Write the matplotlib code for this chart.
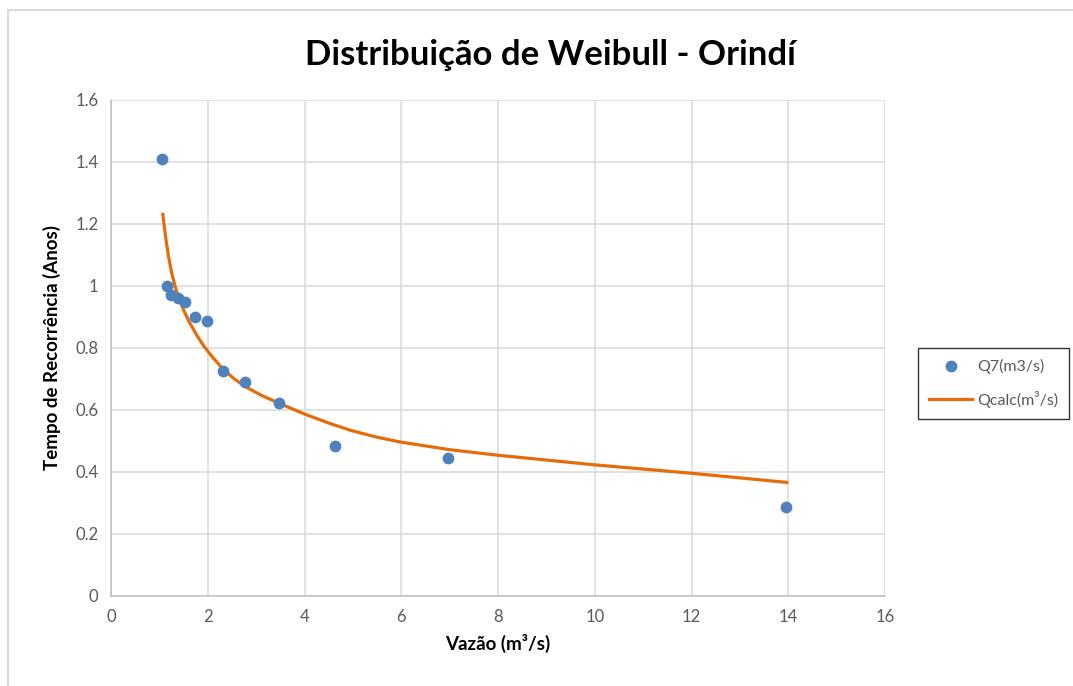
import matplotlib.pyplot as plt
from matplotlib.lines import Line2D

# observed points Q7(m3/s)
obs_x = [1.05, 1.15, 1.25, 1.39, 1.53, 1.74, 1.98, 2.31, 2.77, 3.47, 4.63, 6.97, 13.96]
obs_y = [1.41, 1.00, 0.971, 0.962, 0.949, 0.901, 0.887, 0.726, 0.691, 0.622, 0.485, 0.446, 0.286]

# fitted curve Qcalc(m3/s)
calc_x = [1.068, 1.095, 1.136, 1.184, 1.25, 1.322, 1.40, 1.494, 1.62, 1.77, 1.92, 2.1,
          2.31, 2.55, 2.77, 3.1, 3.47, 4.0, 4.5, 4.94, 5.45, 5.97, 7.0, 8.0, 10.0, 12.0, 14.0]
calc_y = [1.236, 1.2, 1.15, 1.10, 1.045, 1.0, 0.962, 0.925, 0.883, 0.842, 0.806, 0.770,
          0.733, 0.700, 0.676, 0.648, 0.622, 0.587, 0.558, 0.535, 0.514, 0.497, 0.472,
          0.454, 0.423, 0.396, 0.366]

x_ticks = [0, 2, 4, 6, 8, 10, 12, 14, 16]
y_ticks = [0, 0.2, 0.4, 0.6, 0.8, 1.0, 1.2, 1.4, 1.6]
y_labels = ['0', '0.2', '0.4', '0.6', '0.8', '1', '1.2', '1.4', '1.6']

plt.rcParams['font.family'] = ['Lato', 'DejaVu Sans']

W, H = 1073, 686
fig = plt.figure(figsize=(W / 100, H / 100), dpi=100)
ax = fig.add_axes([111 / W, 1 - 596 / H, (885 - 111) / W, (596 - 100) / H])

ax.plot(calc_x, calc_y, color='#E46C0A', lw=2.3, zorder=3, solid_capstyle='butt',
        solid_joinstyle='round')
ax.scatter(obs_x, obs_y, s=72, color='#4F81BD', zorder=4, linewidths=0)

ax.set_xlim(0, 16)
ax.set_ylim(0, 1.6)
ax.set_xticks(x_ticks)
ax.set_xticklabels([str(v) for v in x_ticks])
ax.set_yticks(y_ticks)
ax.set_yticklabels(y_labels)
ax.tick_params(length=0, labelsize=12, labelcolor='#595959', pad=9)
ax.grid(True, color='#D9D9D9', lw=1.1)
ax.set_axisbelow(True)
for s in ['top', 'right']:
    ax.spines[s].set_visible(False)
for s in ['left', 'bottom']:
    ax.spines[s].set_color('#BFBFBF')
    ax.spines[s].set_linewidth(1.1)

ax.set_xlabel('Vazão (m³/s)', fontsize=13.5, fontweight='bold', labelpad=7)
ax.set_ylabel('Tempo de Recorrência (Anos)', fontsize=13.5, fontweight='bold', labelpad=10)
fig.text(550 / W, 1 - 55 / H, 'Distribuição de Weibull - Orindí', fontsize=25,
         fontweight='bold', ha='center', va='center')

handles = [
    Line2D([], [], marker='o', ls='none', color='#4F81BD', markersize=8.5, markeredgewidth=0),
    Line2D([], [], color='#E46C0A', lw=2.3),
]
leg = fig.legend(handles, ['Q7(m3/s)', 'Qcalc(m³/s)'], loc='upper left',
                 bbox_to_anchor=(918 / W, 1 - 348 / H), borderaxespad=0, fontsize=11.5,
                 frameon=True, fancybox=False, edgecolor='black', labelcolor='#595959',
                 handlelength=2.7, handletextpad=0.3, borderpad=0.7, labelspacing=1.05)
leg.get_frame().set_linewidth(1.0)

# chart area border
fig.add_artist(Line2D([8 / W, 8 / W], [0, 1 - 10 / H], color='#D9D9D9', lw=1.5))
fig.add_artist(Line2D([8 / W, 1], [1 - 10 / H, 1 - 10 / H], color='#D9D9D9', lw=1.5))

fig.savefig('out.png', dpi=100)
